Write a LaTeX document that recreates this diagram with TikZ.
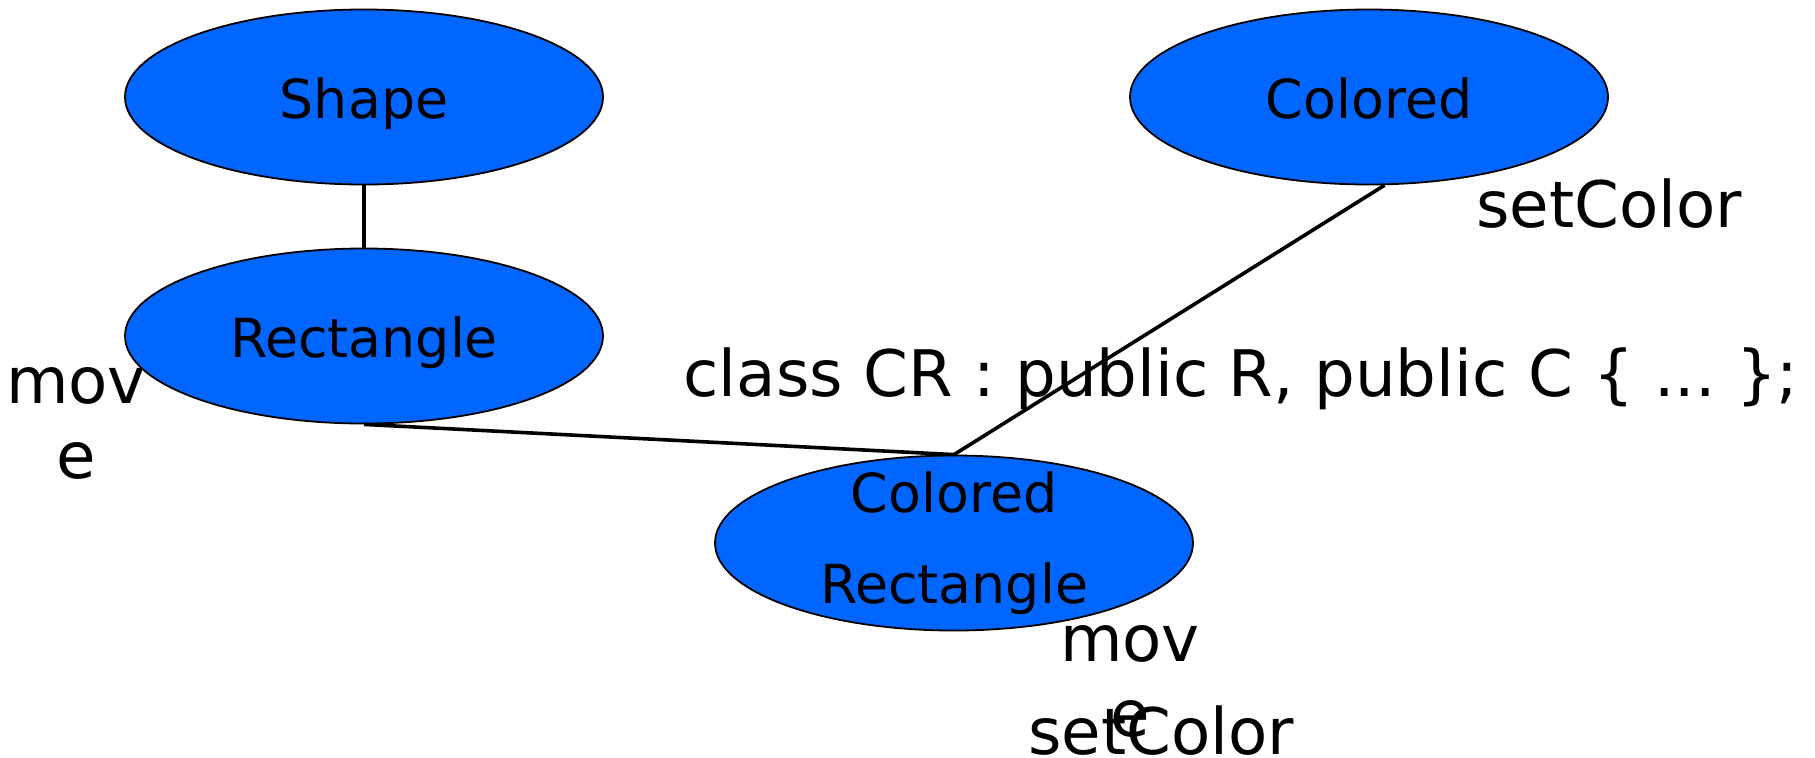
\documentclass[tikz,border=0pt]{standalone}
\usepackage{fontspec}
\setmainfont{DejaVu Sans}
\usetikzlibrary{shapes.geometric}
\definecolor{clsblue}{RGB}{0,102,255}
\newcommand{\clsfont}{\fontsize{26.9}{45.5}\selectfont}
\newcommand{\lblfont}{\fontsize{32.1}{37.5}\selectfont\frenchspacing}
\begin{document}
\begin{tikzpicture}[x=0.5pt,y=-0.5pt,
  cls/.style={ellipse, draw=black, line width=0.9pt, fill=clsblue,
    minimum width=239pt, minimum height=87.5pt, inner sep=0pt,
    font=\clsfont, align=center},
  one/.style={text height=26pt, text depth=4.6pt},
  lbl/.style={font=\lblfont, inner sep=0pt, align=center, anchor=base},
  conn/.style={line width=1.8pt, draw=black}]
\useasboundingbox (0,0) rectangle (1815,757);
\node[cls, one] (S) at (364,97) {Shape};
\node[cls, one] (R) at (364,336) {Rectangle};
\node[cls, one] (C) at (1369,97) {Colored};
\node[cls, inner ysep=-14pt] (CR) at (954,543) {Colored\\Rectangle};
\draw[conn] (S.south) -- (R.north);
\draw[conn] (R.south) -- (CR.north);
\draw[conn] (C.-80) -- (CR.north);
\node[lbl] (lsc) at (1609,227) {setColor};
\node[lbl] (lcls) at (1241,396) {class CR : public R, public C \{ ... \};};
\node[lbl] (lmv1) at (76,478) {mov\\e};
\node[lbl] (lmv2) at (1130,736) {mov\\e};
\node[lbl] (lsc2) at (1161,754) {setColor};
\end{tikzpicture}
\end{document}
